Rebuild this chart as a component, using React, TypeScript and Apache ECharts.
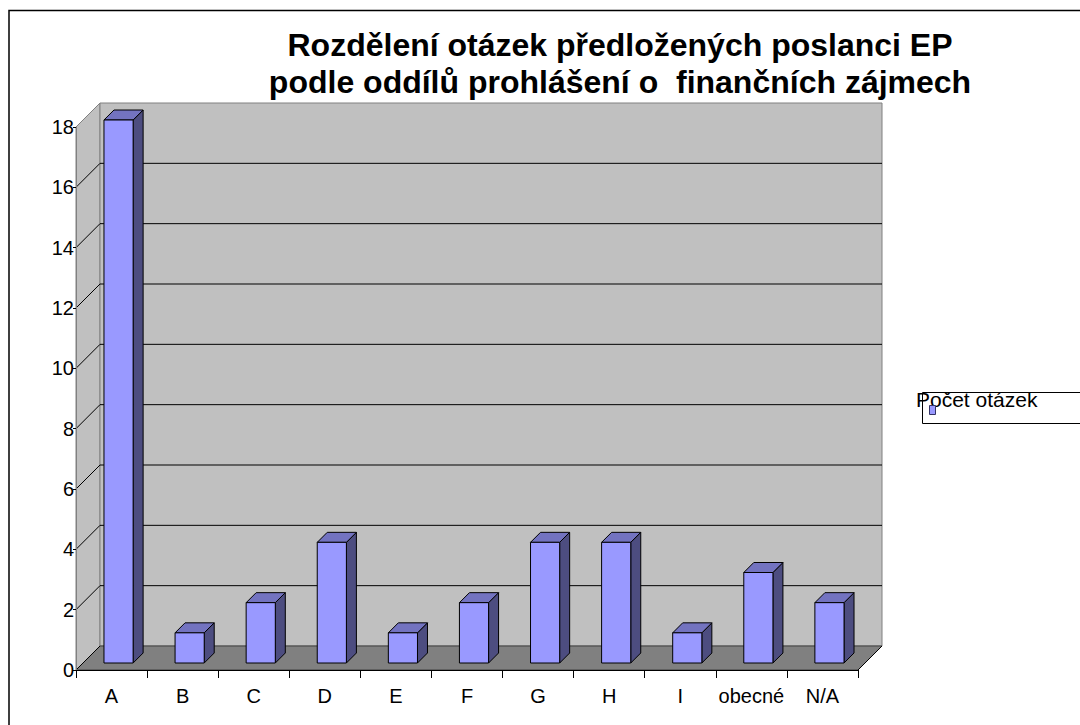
import React, { useEffect, useRef } from "react";
import * as echarts from "echarts";

const categories = ["A", "B", "C", "D", "E", "F", "G", "H", "I", "obecné", "N/A"];
const counts = [18, 1, 2, 4, 1, 2, 4, 4, 1, 3, 2];
const yTicks = [0, 2, 4, 6, 8, 10, 12, 14, 16, 18];
const seriesName = "Počet otázek";
const titleLines = [
  "Rozdělení otázek předložených poslanci EP",
  "podle oddílů prohlášení o  finančních zájmech",
];

const FONT = 'Arial, "Liberation Sans", sans-serif';
const DEPTH = 24;
const BAR_NEAR = 7;
const BAR_FAR = 17;
const BAR_W = 0.41;

export default function App() {
  const ref = useRef<HTMLDivElement>(null);
  useEffect(() => {
    document.body.style.margin = "0";
    const chart = echarts.init(ref.current!, null, { renderer: "svg" });
    const yMax = yTicks[yTicks.length - 1];

    const wallsRender = (params: any, api: any) => {
      const n = categories.length;
      const p0 = api.coord([0, 0]);
      const band = api.size([1, 0])[0];
      const xl = p0[0] - band / 2;
      const xr = xl + band * n;
      const y0 = p0[1];
      const yTop = api.coord([0, yMax])[1];
      const d = DEPTH;
      const children: any[] = [];
      children.push({
        type: "polygon",
        shape: { points: [[xl, y0], [xl, yTop], [xl + d, yTop - d], [xl + d, y0 - d]] },
        style: { fill: "#C0C0C0", stroke: "#808080", lineWidth: 1 },
      });
      children.push({
        type: "rect",
        shape: { x: xl + d, y: yTop - d, width: xr - xl, height: y0 - yTop },
        style: { fill: "#C0C0C0", stroke: "#808080", lineWidth: 1 },
      });
      yTicks.forEach((v) => {
        if (v === 0 || v === yMax) return;
        const y = api.coord([0, v])[1];
        children.push({
          type: "polyline",
          shape: { points: [[xl, y], [xl + d, y - d], [xr + d, y - d]] },
          style: { fill: null, stroke: "#000", lineWidth: 1 },
        });
      });
      children.push({
        type: "polygon",
        shape: { points: [[xl, y0], [xr, y0], [xr + d, y0 - d], [xl + d, y0 - d]] },
        style: { fill: "#808080", stroke: "#404040", lineWidth: 1 },
      });
      children.push({
        type: "line",
        shape: { x1: xl, y1: y0, x2: xl + d, y2: y0 - d },
        style: { stroke: "#000", lineWidth: 1 },
      });
      children.push({
        type: "line",
        shape: { x1: xr, y1: y0, x2: xr + d, y2: y0 - d },
        style: { stroke: "#000", lineWidth: 1 },
      });
      return { type: "group", children };
    };

    const barRender = (params: any, api: any) => {
      const i = api.value(0);
      const v = api.value(1);
      const base = api.coord([i, 0]);
      const top = api.coord([i, v]);
      const band = api.size([1, 0])[0];
      const w = band * BAR_W;
      const x1 = base[0] - w / 2 + BAR_NEAR;
      const x2 = x1 + w;
      const yb = base[1] - BAR_NEAR;
      const yt = top[1] - BAR_NEAR;
      const dd = BAR_FAR - BAR_NEAR;
      return {
        type: "group",
        children: [
          {
            type: "polygon",
            shape: { points: [[x2, yb], [x2, yt], [x2 + dd, yt - dd], [x2 + dd, yb - dd]] },
            style: { fill: "#4D4D80", stroke: "#000", lineWidth: 1 },
          },
          {
            type: "polygon",
            shape: { points: [[x1, yt], [x2, yt], [x2 + dd, yt - dd], [x1 + dd, yt - dd]] },
            style: { fill: "#7373C0", stroke: "#000", lineWidth: 1 },
          },
          {
            type: "rect",
            shape: { x: x1, y: yt, width: w, height: yb - yt },
            style: { fill: "#9999FF", stroke: "#000", lineWidth: 1 },
          },
        ],
      };
    };

    chart.setOption({
      animation: false,
      backgroundColor: "#fff",
      grid: { left: 76, right: 222, top: 127, bottom: 55, containLabel: false },
      xAxis: {
        type: "category",
        data: categories,
        z: 5,
        axisLine: { show: true, lineStyle: { color: "#000", width: 1 } },
        axisTick: { show: true, length: 8, lineStyle: { color: "#000" } },
        axisLabel: { interval: 0, fontSize: 20, color: "#000", margin: 16, fontFamily: FONT },
        splitLine: { show: false },
      },
      yAxis: {
        type: "value",
        min: 0,
        max: 18,
        interval: 2,
        z: 5,
        axisLine: { show: true, lineStyle: { color: "#808080", width: 1 } },
        axisTick: { show: true, length: 3, lineStyle: { color: "#000" } },
        axisLabel: { fontSize: 20, color: "#000", margin: 2, fontFamily: FONT },
        splitLine: { show: false },
      },
      legend: {
        data: [seriesName],
        left: 916,
        top: 389,
        padding: 0,
        icon: "rect",
        itemWidth: 7,
        itemHeight: 10,
        itemStyle: { color: "#9999FF", opacity: 0 },
        textStyle: { fontSize: 21, color: "#000", fontFamily: FONT, padding: [0, 0, 20, -25] },
      },
      graphic: [
        {
          type: "rect",
          z: -10,
          shape: { x: 9, y: 10.5, width: 1200, height: 800 },
          style: { fill: null, stroke: "#000", lineWidth: 1.5 },
          silent: true,
        },
        {
          type: "rect",
          shape: { x: 922.5, y: 392.5, width: 200, height: 31 },
          style: { fill: null, stroke: "#000", lineWidth: 1 },
          silent: true,
        },
        {
          type: "rect",
          z: 10,
          shape: { x: 929.5, y: 405.5, width: 6, height: 9 },
          style: { fill: "#9999FF", stroke: "#333366", lineWidth: 1 },
          silent: true,
        },
        {
          type: "text",
          x: 620,
          y: 26,
          style: {
            text: titleLines.join("\n"),
            fill: "#000",
            font: `bold 32px ${FONT}`,
            align: "center",
            verticalAlign: "top",
            lineHeight: 37,
          },
        },
      ],
      series: [
        {
          type: "custom",
          name: "walls",
          silent: true,
          clip: false,
          z: 1,
          renderItem: wallsRender,
          data: [[0, 0]],
          encode: { x: 0, y: 1 },
        },
        {
          type: "custom",
          name: seriesName,
          clip: false,
          z: 2,
          itemStyle: { color: "#9999FF" },
          renderItem: barRender,
          data: counts.map((v, i) => [i, v]),
          encode: { x: 0, y: 1 },
        },
      ],
    });
    return () => chart.dispose();
  }, []);
  return <div ref={ref} style={{ width: 1080, height: 725 }} />;
}
